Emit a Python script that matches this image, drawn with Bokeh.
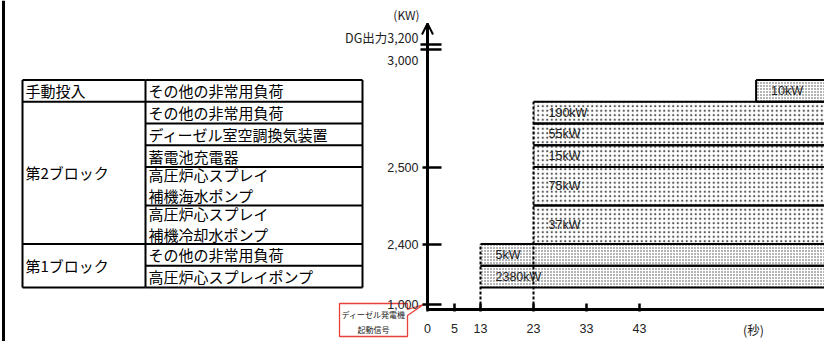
import numpy as np
from bokeh.plotting import figure
from bokeh.models import Range1d, LinearAxis, FixedTicker, Arrow, OpenHead
from bokeh.core.properties import value
from bokeh.embed import file_html
from bokeh.resources import INLINE

# ---------------- data ----------------
block_names = ["第1ブロック", "第2ブロック", "手動投入"]
block_start_s = [13, 23, 65]
load_names = [
    "高圧炉心スプレイポンプ",
    "その他の非常用負荷",
    "高圧炉心スプレイ\n補機冷却水ポンプ",
    "高圧炉心スプレイ\n補機海水ポンプ",
    "蓄電池充電器",
    "ディーゼル室空調換気装置",
    "その他の非常用負荷",
    "その他の非常用負荷",
]
load_kw = [2380, 5, 37, 75, 15, 55, 190, 10]
load_block = ["第1ブロック", "第1ブロック", "第2ブロック", "第2ブロック",
              "第2ブロック", "第2ブロック", "第2ブロック", "手動投入"]
time_ticks_s = [0, 5, 13, 23, 33, 43]
time_unit = "(秒)"
kw_axis_ticks = [1000, 2400, 2500]
kw_axis_top = 3000
dg_output_kw = 3200
power_unit = "(KW)"
signal_text = "ディーゼル発電機\n起動信号"

# ---------------- layout (schematic diagram, 1 data unit = 1 px) ----------------
W, H = 824, 341
OX, OY = 427, 309                 # axis origin in canvas px
SEC_PX = 5.3                      # px per second after the axis break
BREAK_S, BREAK_PX = [0, 5, 13], [0, 27, 53]
Y_BASE, ROW_PAD, LINE_H = 22, 5.0, 16.75
Y_LOW_TICK = 5                    # 1,000 (below the axis break)
Y_TOP_LABEL, Y_DG_LABEL = 250, 272
Y_BREAKS = [260, 265]
AXIS_TOP = 286
TBL_X0, TBL_X1, TBL_X2 = -405, -282, -65
SANS = "Liberation Sans"
JP = "Noto Sans CJK JP"


def t_px(t):
    t = np.asarray(t, dtype=float)
    return np.where(t <= BREAK_S[-1], np.interp(t, BREAK_S, BREAK_PX),
                    BREAK_PX[-1] + (t - BREAK_S[-1]) * SEC_PX)


p = figure(width=W, height=H, output_backend="svg", toolbar_location=None,
           x_range=Range1d(-OX, W - OX), y_range=Range1d(-(H - OY), OY),
           x_axis_type=None, y_axis_type=None, outline_line_color=None,
           min_border_left=0, min_border_right=0, min_border_top=0, min_border_bottom=0)
p.background_fill_color = "white"

# stacked rows (height from number of text lines)
n_lines = np.array([n.count("\n") + 1 for n in load_names])
heights = ROW_PAD + LINE_H * n_lines
tops = Y_BASE + np.cumsum(heights)
bottoms = tops - heights
mids = (tops + bottoms) / 2
start_of = dict(zip(block_names, block_start_s))
lefts = t_px([start_of[b] for b in load_block])
right = W - OX

# page frame line on the left
p.segment(x0=[-OX + 3], y0=[-(H - OY)], x1=[-OX + 3], y1=[OY], line_color="black", line_width=3)

# bars
dense = np.array([b != "第2ブロック" for b in load_block])
for mask, scale, col in ((dense, 3, "#444"), (~dense, 4.5, "#555")):
    p.quad(left=lefts[mask], right=right, bottom=bottoms[mask], top=tops[mask],
           fill_color="white", line_color=None, hatch_pattern="dot",
           hatch_scale=scale, hatch_color=col, hatch_weight=1)
p.segment(x0=lefts, y0=tops, x1=right, y1=tops, line_color="black", line_width=2)
p.segment(x0=lefts, y0=bottoms, x1=right, y1=bottoms, line_color="black", line_width=2)
# block start lines
auto_blocks = block_names[:2]
blk_top = [tops[[i for i, b in enumerate(load_block) if b == bn]].max() for bn in auto_blocks]
p.segment(x0=t_px([start_of[b] for b in auto_blocks]), y0=0,
          x1=t_px([start_of[b] for b in auto_blocks]), y1=blk_top,
          line_color="black", line_width=2, line_dash="3 2")
man = [i for i, b in enumerate(load_block) if b == "手動投入"]
p.segment(x0=lefts[man], y0=bottoms[man], x1=lefts[man], y1=tops[man], line_color="black", line_width=2)
p.text(x=lefts + 15, y=mids, text=[f"{v}kW" for v in load_kw], text_baseline="middle",
       text_align="left", text_font=value(SANS), text_font_size="12.5px", text_color="#222")

# table
row_y = [bottoms[0]] + list(tops)
p.segment(x0=TBL_X1, y0=row_y, x1=TBL_X2, y1=row_y, line_color="black", line_width=2)
blk_y = [bottoms[0]] + [tops[i] for i in range(len(load_block))
                        if i == len(load_block) - 1 or load_block[i + 1] != load_block[i]]
p.segment(x0=TBL_X0, y0=blk_y, x1=TBL_X1, y1=blk_y, line_color="black", line_width=2)
p.segment(x0=[TBL_X0, TBL_X1, TBL_X2], y0=bottoms[0], x1=[TBL_X0, TBL_X1, TBL_X2], y1=tops[-1],
          line_color="black", line_width=2)
p.text(x=TBL_X1 + 3, y=mids + 1.0 * (n_lines - 1), text=load_names, text_baseline="middle",
       text_align="left", text_font=value(JP), text_font_size="15px", text_line_height=1.0,
       text_color="black")
blk_mid = [(bottoms[[i for i, b in enumerate(load_block) if b == bn]].min() +
            tops[[i for i, b in enumerate(load_block) if b == bn]].max()) / 2 for bn in block_names]
p.text(x=TBL_X0 + 3, y=blk_mid, text=block_names, text_baseline="middle", text_align="left",
       text_font=value(JP), text_font_size="15px", text_color="black")

# y axis
def nearest_boundary(v):
    cum = np.cumsum(load_kw)
    return float(tops[np.argmin(np.abs(cum - v))])

ytick_pos = [Y_LOW_TICK] + [nearest_boundary(v) for v in kw_axis_ticks[1:]]
yaxis = LinearAxis(fixed_location=0, bounds=(0, AXIS_TOP),
                   ticker=FixedTicker(ticks=ytick_pos, minor_ticks=[]),
                   major_label_overrides={pos: f"{v:,}" for pos, v in zip(ytick_pos, kw_axis_ticks)})
yaxis.axis_line_width = 3
yaxis.major_tick_in = 14
yaxis.major_tick_out = 5
yaxis.major_tick_line_width = 2.5
yaxis.minor_tick_line_color = None
yaxis.major_label_standoff = 4
yaxis.major_label_text_baseline = "bottom"
yaxis.major_label_text_font = SANS
yaxis.major_label_text_font_size = "12.5px"
yaxis.major_label_text_color = "#222"
p.add_layout(yaxis, "left")
p.add_layout(Arrow(end=OpenHead(size=11, line_width=2), x_start=0, y_start=AXIS_TOP - 20,
                   x_end=0, y_end=AXIS_TOP, line_width=3))
p.segment(x0=-7, y0=Y_BREAKS, x1=14, y1=Y_BREAKS, line_color="black", line_width=2.5)
p.text(x=[-9, -9], y=[Y_TOP_LABEL, Y_DG_LABEL], text=[f"{kw_axis_top:,}", f"DG出力{dg_output_kw:,}"],
       text_align="right", text_baseline="middle", text_font=value(JP), text_font_size="12.5px",
       text_color="#222")
p.text(x=[-21], y=[AXIS_TOP + 9], text=[power_unit], text_align="center", text_baseline="middle",
       text_font=value(JP), text_font_size="12px", text_color="#222")

# x axis
tpx = [float(v) for v in t_px(time_ticks_s)]
xaxis = LinearAxis(fixed_location=0, bounds=(0, right),
                   ticker=FixedTicker(ticks=tpx, minor_ticks=[]),
                   major_label_overrides={pos: str(t) for pos, t in zip(tpx, time_ticks_s)})
xaxis.axis_line_width = 3
xaxis.major_tick_in = 6
xaxis.major_tick_out = 2
xaxis.major_tick_line_width = 2.5
xaxis.minor_tick_line_color = None
xaxis.major_label_standoff = 12
xaxis.major_label_text_font = SANS
xaxis.major_label_text_font_size = "12.5px"
xaxis.major_label_text_color = "#222"
p.add_layout(xaxis, "below")
p.text(x=[326], y=[-20], text=[time_unit], text_align="center", text_baseline="middle",
       text_font=value(JP), text_font_size="12.5px", text_color="#222")

# callout for the start signal
cx = [-88, -20, -20, -4, -20, -20, -88]
cy = [6, 6, 0, 5, -6, -27, -27]
p.patch(cx, cy, fill_color="white", line_color="#e8403a", line_width=1.3)
p.text(x=[-54], y=[-12.5], text=[signal_text], text_align="center", text_baseline="middle",
       text_font=value(JP), text_font_size="8px", text_line_height=1.35, text_color="#222")

open("out.html", "w").write(file_html(p, INLINE))
